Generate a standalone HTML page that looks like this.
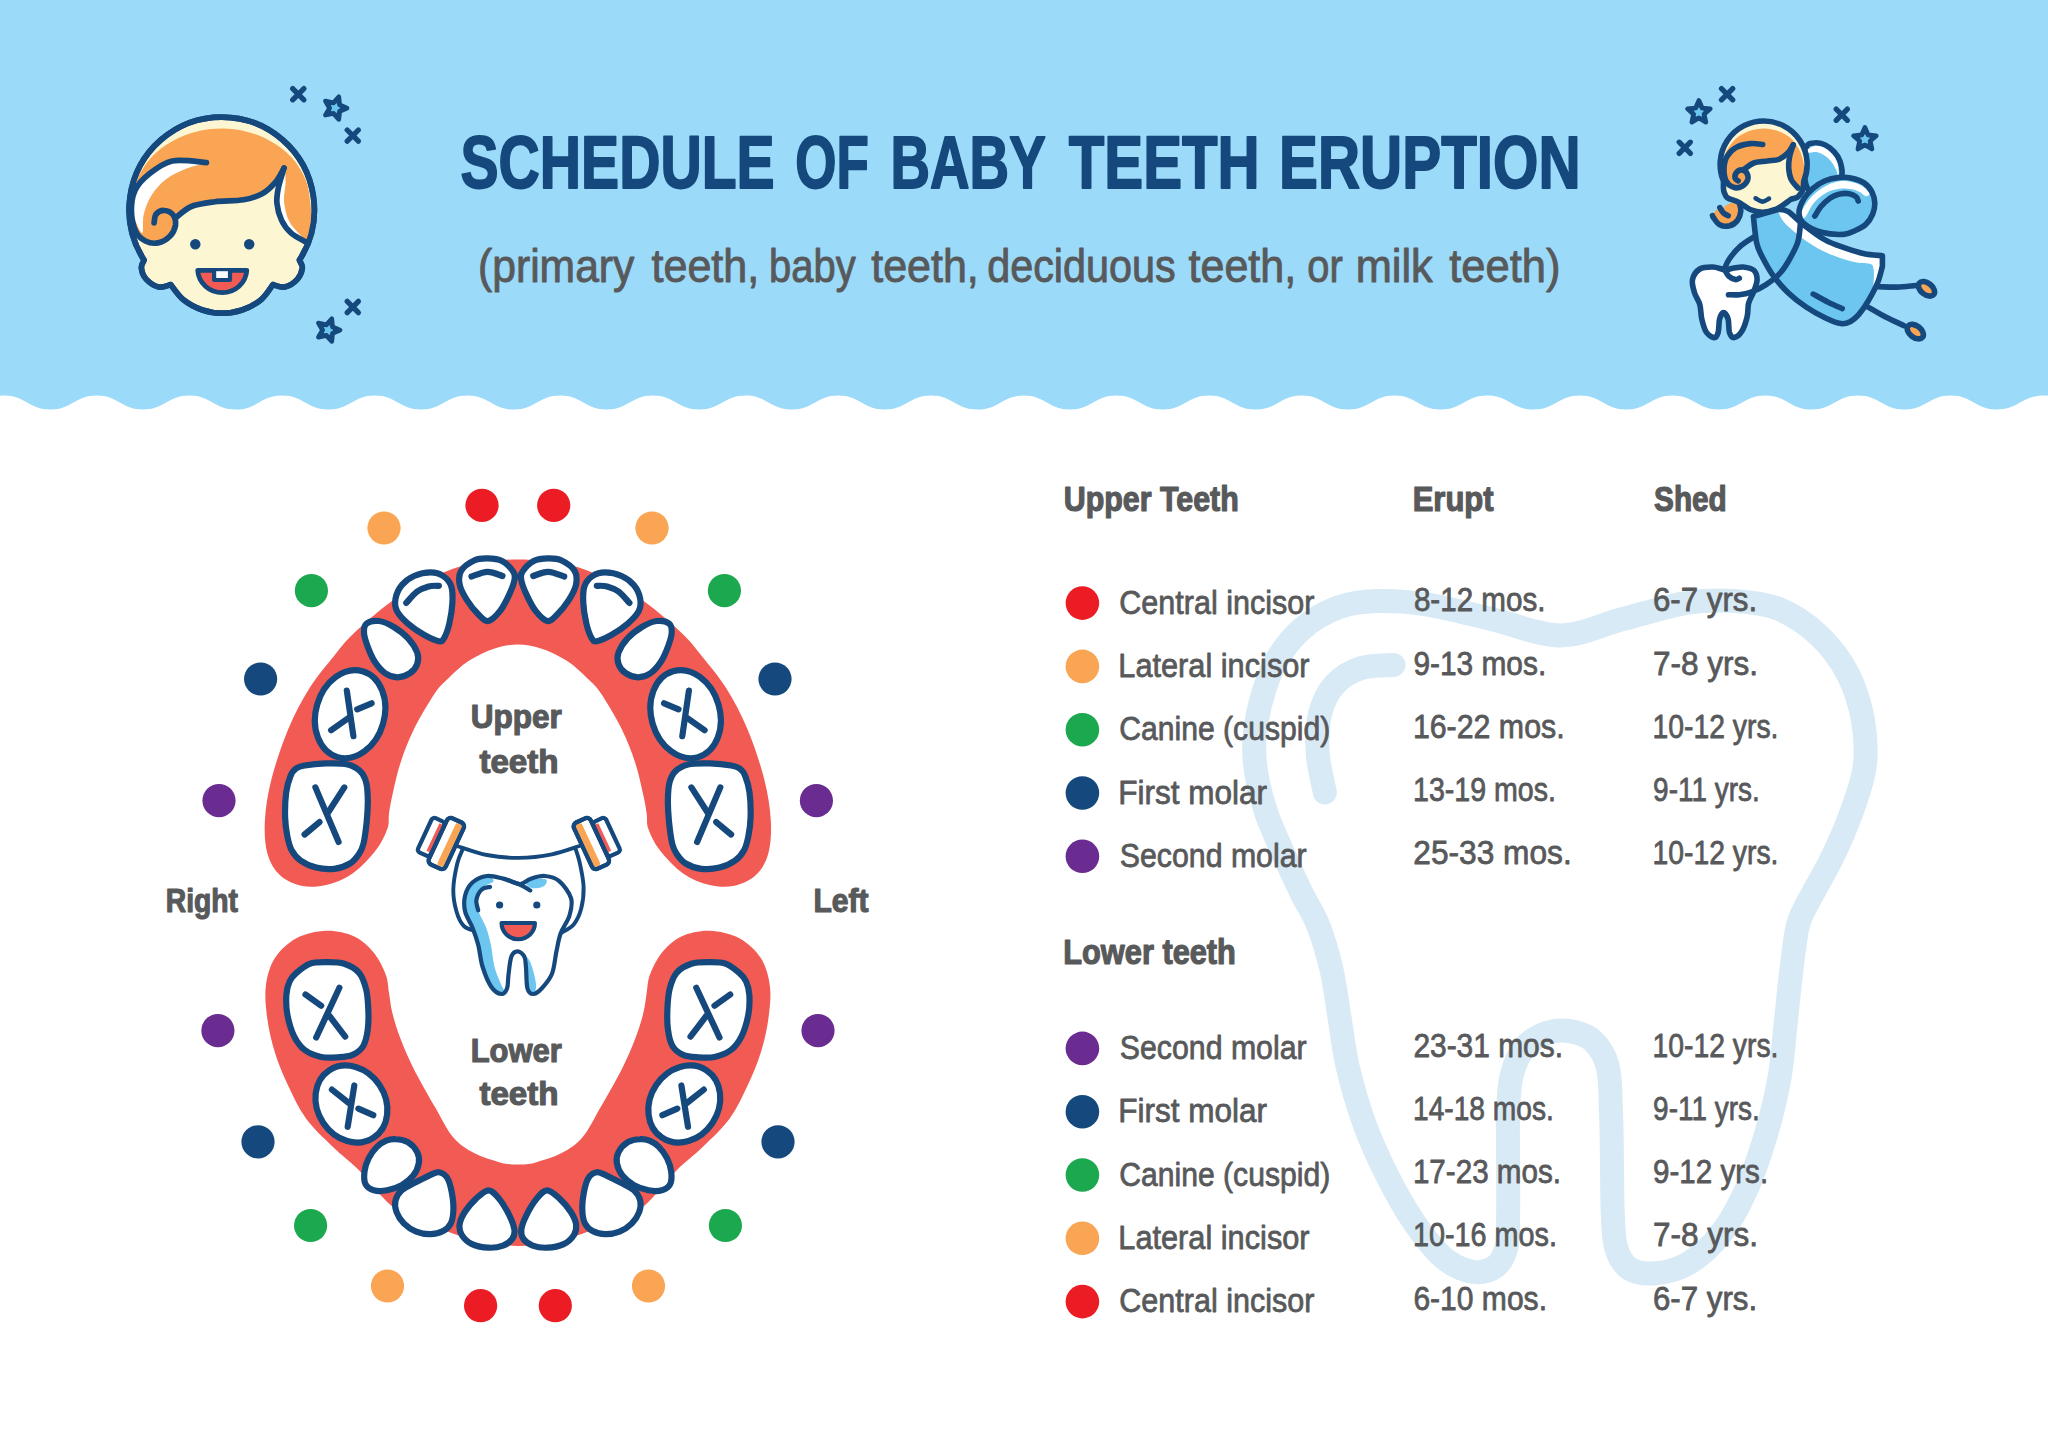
<!DOCTYPE html>
<html lang="en"><head><meta charset="utf-8"><title>Schedule of Baby Teeth Eruption</title>
<style>html,body{margin:0;padding:0;background:#fff}body{width:2048px;height:1451px;overflow:hidden}svg{display:block}</style>
</head><body>
<svg width="2048" height="1451" viewBox="0 0 2048 1451">
<rect width="2048" height="1451" fill="#fff"/>
<path d="M-88.7 395.6C-66.9 395.6 -64.1 409.6 -42.4 409.6C-20.6 409.6 -17.8 395.6 4 395.6C25.8 395.6 28.6 409.6 50.4 409.6C72.1 409.6 74.9 395.6 96.7 395.6C118.5 395.6 121.3 409.6 143.1 409.6C164.8 409.6 167.6 395.6 189.4 395.6C211.2 395.6 214 409.6 235.8 409.6C257.5 409.6 260.3 395.6 282.1 395.6C303.9 395.6 306.7 409.6 328.5 409.6C350.2 409.6 353 395.6 374.8 395.6C396.6 395.6 399.4 409.6 421.2 409.6C442.9 409.6 445.7 395.6 467.5 395.6C489.3 395.6 492.1 409.6 513.9 409.6C535.6 409.6 538.4 395.6 560.2 395.6C582 395.6 584.8 409.6 606.6 409.6C628.3 409.6 631.1 395.6 652.9 395.6C674.7 395.6 677.5 409.6 699.3 409.6C721 409.6 723.8 395.6 745.6 395.6C767.4 395.6 770.2 409.6 792 409.6C813.7 409.6 816.5 395.6 838.3 395.6C860.1 395.6 862.9 409.6 884.7 409.6C906.4 409.6 909.2 395.6 931 395.6C952.8 395.6 955.6 409.6 977.4 409.6C999.1 409.6 1001.9 395.6 1023.7 395.6C1045.5 395.6 1048.3 409.6 1070.1 409.6C1091.8 409.6 1094.6 395.6 1116.4 395.6C1138.2 395.6 1141 409.6 1162.8 409.6C1184.5 409.6 1187.3 395.6 1209.1 395.6C1230.9 395.6 1233.7 409.6 1255.5 409.6C1277.2 409.6 1280 395.6 1301.8 395.6C1323.6 395.6 1326.4 409.6 1348.1 409.6C1369.9 409.6 1372.7 395.6 1394.5 395.6C1416.3 395.6 1419.1 409.6 1440.8 409.6C1462.6 409.6 1465.4 395.6 1487.2 395.6C1509 395.6 1511.8 409.6 1533.5 409.6C1555.3 409.6 1558.1 395.6 1579.9 395.6C1601.7 395.6 1604.5 409.6 1626.2 409.6C1648 409.6 1650.8 395.6 1672.6 395.6C1694.4 395.6 1697.2 409.6 1718.9 409.6C1740.7 409.6 1743.5 395.6 1765.3 395.6C1787.1 395.6 1789.9 409.6 1811.6 409.6C1833.4 409.6 1836.2 395.6 1858 395.6C1879.8 395.6 1882.6 409.6 1904.3 409.6C1926.1 409.6 1928.9 395.6 1950.7 395.6C1972.5 395.6 1975.3 409.6 1997 409.6C2018.8 409.6 2021.6 395.6 2043.4 395.6C2065.2 395.6 2068 409.6 2089.7 409.6C2111.5 409.6 2114.3 395.6 2136.1 395.6V-10H-88.7Z" fill="#9bdaf8"/>
<g fill="none" stroke="#d7eaf5" stroke-width="24" stroke-linecap="round" stroke-linejoin="round"><path d="M1560.4 635.4C1538.6 635.4 1514.1 624.3 1491.7 619.1C1469.3 613.9 1445.4 607.4 1426.3 604.4C1407.2 601.4 1391.9 600.6 1377.2 601.1C1362.5 601.6 1350.5 603 1338 607.6C1325.5 612.2 1312.4 619.9 1302 628.9C1291.6 637.9 1282.6 649.6 1275.8 661.6C1269 673.6 1264.6 687.8 1261.1 700.9C1257.5 714 1255.3 728.1 1254.5 740.1C1253.7 752.1 1254.3 760.8 1256.2 772.8C1258.1 784.8 1261.7 799 1266 812.1C1270.3 825.2 1276.3 837.7 1282.3 851.3C1288.3 864.9 1296 881.6 1302 893.9C1308 906.2 1313.1 912.5 1318 925C1322.9 937.5 1327.8 953.6 1331.4 969.1C1335 984.6 1336.9 1001.8 1339.6 1018.1C1342.3 1034.5 1343.7 1049.8 1347.8 1067.2C1351.9 1084.7 1357.6 1104.8 1364.1 1122.8C1370.6 1140.8 1378.8 1158.8 1387 1175.2C1395.2 1191.6 1403.9 1207.4 1413.2 1221C1422.5 1234.6 1432.8 1248.5 1442.6 1257C1452.4 1265.5 1463.4 1270.1 1472.1 1271.7C1480.8 1273.3 1489.3 1270.9 1495 1266.8C1500.7 1262.7 1504.2 1255.9 1506.4 1247.2C1508.6 1238.5 1507.8 1228.1 1508.1 1214.4C1508.4 1200.7 1508.1 1181.3 1508.1 1165C1508.1 1148.7 1507.6 1131 1508.1 1116.3C1508.6 1101.6 1508.6 1088.5 1511.3 1077C1514 1065.5 1518.4 1054.9 1524.4 1047.6C1530.4 1040.2 1539.7 1035.6 1547.3 1032.9C1554.9 1030.2 1562.6 1029.9 1570.2 1031.2C1577.8 1032.5 1586.8 1035 1593.1 1041C1599.4 1047 1604.9 1054.7 1607.9 1067.2C1610.9 1079.8 1610.4 1100 1611.1 1116.3C1611.8 1132.6 1611.7 1148.7 1612 1165C1612.3 1181.3 1612.1 1200.7 1612.8 1214.4C1613.5 1228.1 1613.3 1238.2 1616 1247.2C1618.7 1256.2 1622.5 1264.1 1629.1 1268.4C1635.6 1272.8 1645.5 1274.1 1655.3 1273.3C1665.1 1272.5 1677.1 1270 1688 1263.5C1698.9 1257 1710.9 1246.6 1720.7 1234.1C1730.5 1221.6 1739.3 1205.2 1746.9 1188.3C1754.5 1171.4 1761 1151.1 1766.5 1132.6C1772 1114 1776.3 1096.1 1779.6 1077C1782.9 1057.9 1784.2 1036.1 1786.2 1018.1C1788.2 1000.1 1789.5 984.6 1791.5 969.1C1793.5 953.6 1795.1 936.5 1798 925C1800.9 913.5 1803.3 911.6 1809 900.4C1814.7 889.2 1824.9 872.6 1832 857.9C1839.1 843.2 1846.1 827.4 1851.6 812.1C1857 796.8 1862.8 781.6 1864.7 766.3C1866.6 751 1865.7 735.8 1863 720.5C1860.3 705.2 1855.6 688.9 1848.3 674.7C1841 660.5 1830.4 646.3 1818.9 635.4C1807.5 624.5 1793.2 615 1779.6 609.3C1766 603.6 1752.4 602.2 1737.1 601.1C1721.8 600 1707.1 599.7 1688 602.7C1668.9 605.7 1643.9 613.7 1622.6 619.1C1601.3 624.5 1582.2 635.4 1560.4 635.4Z"/><path d="M1393.6 664.9C1388.1 665.4 1370.7 664.8 1360.9 668.1C1351.1 671.4 1341.5 676.9 1334.7 684.5C1327.9 692.1 1322.8 702.4 1320 713.9C1317.2 725.4 1316.9 740.1 1317.7 753.2C1318.5 766.3 1323.7 786 1324.9 792.5"/></g>
<path d="M517.9 559.5C508.6 559.5 499 560 490 561C481 562 472 563.3 463.7 565.5C455.4 567.7 448.1 570.5 440 574C431.9 577.5 423.1 581.9 415 586.5C406.9 591.1 398.8 596.2 391.4 601.5C384 606.8 377.6 612.1 370.7 618C363.8 623.9 356.1 630.8 350 637C343.9 643.2 341.1 647 334.4 655.5C327.7 664 317.3 675.8 309.6 688.1C301.9 700.4 294.5 714.3 288.1 729.5C281.8 744.7 275.4 763.9 271.5 779.1C267.6 794.3 265.6 808.1 264.9 820.5C264.2 832.9 264.9 844.4 267.4 853.5C269.9 862.6 274.1 869.7 279.8 875.1C285.5 880.5 293.6 884.1 301.3 885.8C309 887.4 317.6 887.1 326.1 885C334.7 882.9 344.3 879.2 352.6 873.4C360.9 867.6 370 857.7 375.8 850.2C381.6 842.8 385.2 834.8 387.4 828.7C389.6 822.6 388.2 819.3 389 813.8C389.8 808.3 390.4 804.1 392.3 795.6C394.2 787.1 397 773.5 400.6 762.5C404.2 751.5 408.1 741.1 413.8 729.5C419.5 717.9 429.3 701.6 435 693.1C440.7 684.6 442.6 683.8 448.2 678.4C453.8 673 461.1 665.8 468.9 660.8C476.6 655.8 486.5 651.1 494.7 648.4C502.9 645.7 510.1 644.5 517.9 644.5C525.6 644.5 532.8 645.7 541 648.4C549.2 651.1 559.1 655.8 566.8 660.8C574.6 665.8 581.9 673 587.5 678.4C593.1 683.8 595 684.6 600.7 693.1C606.4 701.6 616.2 717.9 621.9 729.5C627.6 741.1 631.5 751.5 635.1 762.5C638.7 773.5 641.5 787.1 643.4 795.6C645.3 804.1 645.9 808.3 646.7 813.8C647.5 819.3 646.1 822.6 648.3 828.7C650.5 834.8 654.1 842.8 659.9 850.2C665.7 857.7 674.8 867.6 683.1 873.4C691.4 879.2 701 882.9 709.6 885C718.2 887.1 726.7 887.4 734.4 885.8C742.1 884.1 750.3 880.5 755.9 875.1C761.6 869.7 765.8 862.6 768.3 853.5C770.8 844.4 771.5 832.9 770.8 820.5C770.1 808.1 768.1 794.3 764.2 779.1C760.3 763.9 754 744.7 747.6 729.5C741.2 714.3 733.8 700.4 726.1 688.1C718.4 675.8 708 664 701.3 655.5C694.6 647 691.8 643.2 685.7 637C679.7 630.8 671.9 623.9 665 618C658.1 612.1 651.7 606.8 644.3 601.5C636.9 596.2 628.8 591.1 620.7 586.5C612.6 581.9 603.8 577.5 595.7 574C587.6 570.5 580.3 567.7 572 565.5C563.7 563.3 554.7 562 545.7 561C536.7 560 527.1 559.5 517.9 559.5Z" fill="#f15b54"/>
<path d="M517.9 1246C508.6 1246 500.7 1245 490 1243C479.3 1241 465.1 1237.5 453.4 1233.7C441.7 1229.9 430.3 1224.7 420 1220C409.7 1215.3 401.6 1214.1 391.4 1205.8C381.2 1197.5 368.7 1180.1 359 1170.3C349.3 1160.5 341.8 1155.6 333 1147C324.2 1138.4 313.5 1128.8 306 1118.5C298.5 1108.2 293.3 1096.5 288.1 1085.5C282.9 1074.5 278.3 1063.4 274.9 1052.4C271.4 1041.4 268.9 1030.3 267.4 1019.3C265.9 1008.3 264.6 996.4 265.8 986.2C267.1 976 269.8 966.1 274.9 958.1C280 950.1 287.9 942.8 296.4 938.2C304.9 933.7 316.5 931.1 326.1 930.8C335.8 930.5 346.3 932.8 354.3 936.5C362.3 940.2 368.9 946.8 374.1 953.1C379.3 959.5 383.2 968 385.7 974.6C388.2 981.2 387.9 986.4 389 992.8C390.1 999.1 390.4 1005 392.3 1012.7C394.2 1020.4 397 1029.7 400.6 1039.1C404.2 1048.5 408.1 1057.6 413.8 1068.9C419.5 1080.2 428.4 1095.5 435 1107C441.6 1118.5 446.9 1129.9 453.4 1137.6C459.9 1145.3 466.4 1149 474.1 1153.1C481.9 1157.2 492.6 1160.5 499.9 1162.4C507.2 1164.3 511.9 1164.5 517.9 1164.5C523.8 1164.5 528.5 1164.3 535.8 1162.4C543.1 1160.5 553.9 1157.2 561.6 1153.1C569.4 1149 575.8 1145.3 582.3 1137.6C588.8 1129.9 594.1 1118.5 600.7 1107C607.3 1095.5 616.2 1080.2 621.9 1068.9C627.6 1057.6 631.5 1048.5 635.1 1039.1C638.7 1029.7 641.5 1020.4 643.4 1012.7C645.3 1005 645.6 999.1 646.7 992.8C647.8 986.4 647.5 981.2 650 974.6C652.5 968 656.4 959.5 661.6 953.1C666.8 946.8 673.4 940.2 681.4 936.5C689.4 932.8 700 930.5 709.6 930.8C719.2 931.1 730.8 933.7 739.3 938.2C747.8 942.8 755.7 950.1 760.8 958.1C765.9 966.1 768.7 976 769.9 986.2C771.2 996.4 769.8 1008.3 768.3 1019.3C766.8 1030.3 764.3 1041.4 760.8 1052.4C757.4 1063.4 752.8 1074.5 747.6 1085.5C742.4 1096.5 737.2 1108.2 729.7 1118.5C722.2 1128.8 711.5 1138.4 702.7 1147C693.9 1155.6 686.4 1160.5 676.7 1170.3C667 1180.1 654.5 1197.5 644.3 1205.8C634.1 1214.1 626 1215.3 615.7 1220C605.4 1224.7 594 1229.9 582.3 1233.7C570.6 1237.5 556.4 1241 545.7 1243C535 1245 527.1 1246 517.9 1246Z" fill="#f15b54"/>
<g fill="#fff" stroke="#15487c" stroke-width="6.2" stroke-linecap="round" stroke-linejoin="round"><path d="M304.6 765.5C309.6 764.6 318.9 763.6 326.1 763.4C333.3 763.2 342 763.1 347.7 764.5C353.4 765.9 357.4 768.4 360.5 771.5C363.6 774.6 365.1 778.2 366.3 783C367.5 787.8 367.7 793.8 367.8 800C367.9 806.2 367.5 813.2 366.8 820.5C366.1 827.8 364.8 838 363.5 843.6C362.2 849.2 361.2 850.7 359 854C356.8 857.3 354.1 861 350 863.5C345.9 866 340 868.1 334.4 868.8C328.8 869.5 321.8 869 316.2 867.6C310.6 866.2 304.6 863.4 300.5 860.5C296.4 857.6 293.7 854.1 291.5 850C289.3 845.9 288.4 841.5 287.3 836C286.2 830.5 285.3 824.4 285.1 817.1C284.9 809.8 285.3 799.1 286.2 792.3C287.1 785.4 288.9 780 290.5 776C292.1 772 293.6 770.2 296 768.5C298.4 766.8 299.6 766.4 304.6 765.5Z"/><path d="M315.4 787.4L338.6 842" fill="none"/><path d="M344.3 787.4L327.8 813" fill="none"/><path d="M304.6 834.5L319.5 822.1" fill="none"/><ellipse cx="350.1" cy="714.2" rx="34.3" ry="44.7" transform="rotate(16.3 350.1 714.2)"/><path d="M346.8 690.6L353.4 736.1" fill="none"/><path d="M331.1 730.3L348.5 717.9" fill="none"/><path d="M357.2 709.3L371.6 703.3" fill="none"/><path d="M366.5 623.6C369 621.6 374.5 620.5 379 621C383.5 621.5 388.6 623.9 393.4 626.7C398.2 629.6 403.9 633.8 407.9 638.1C411.9 642.4 415.6 648.2 417.2 652.5C418.8 656.8 418.4 660.4 417.2 663.9C416 667.4 413.3 671 410 673.2C406.7 675.4 401.7 677.3 397.6 677.3C393.5 677.3 389 675.8 385.2 673.2C381.4 670.6 377.7 666.3 374.8 661.8C371.9 657.3 369.4 651.1 367.6 646.3C365.8 641.5 364.2 636.7 364 632.9C363.8 629.1 364 625.6 366.5 623.6Z"/><path d="M395.5 598.8C396.3 594.5 398.6 589.1 401.7 585.3C404.8 581.5 409.3 578.1 414.1 576C418.9 573.9 425.8 572.4 430.6 572.4C435.4 572.4 439.7 573.7 443.1 576C446.6 578.3 449.8 581.9 451.3 586.4C452.9 590.9 452.7 596.7 452.4 602.9C452.1 609.1 450.7 617.7 449.3 623.6C447.9 629.5 445.8 635.2 444.1 638.1C442.4 641 442.2 641.7 438.9 641.2C435.6 640.7 429.6 637.9 424.4 635C419.2 632.1 412.5 627.6 407.9 623.6C403.3 619.6 399.1 615.3 397 611.2C394.9 607.1 394.7 603.1 395.5 598.8Z"/><path d="M406.3 602.9C408.1 601 413.5 594.2 417.2 591.5C420.9 588.8 425 587.4 428.6 586.4C432.2 585.4 437.2 585.9 438.9 585.8" fill="none"/><path d="M461.1 570.8C463.5 566.8 469.7 562.6 474.1 560.5C478.5 558.4 482.9 558.3 487.5 558.4C492.1 558.5 497.7 558.8 502 561C506.3 563.2 511.3 568.7 513.4 571.9C515.5 575.1 515.1 576.4 514.4 580.2C513.7 584 511.6 589.4 509.2 594.6C506.8 599.8 503.3 606.8 499.9 611.2C496.4 615.6 491.9 620.3 488.5 621C485.1 621.7 482.8 618.8 479.2 615.3C475.6 611.8 470.1 605 466.8 599.8C463.5 594.6 460.6 589.1 459.6 584.3C458.7 579.5 458.7 574.8 461.1 570.8Z"/><path d="M471.5 576.5C474.2 575.7 482.3 572 487.5 571.9C492.7 571.8 500 575.3 502.5 576" fill="none"/><path d="M296.4 972.9C299.7 970 304.7 965.6 309.6 963.8C314.6 962 320.3 962.2 326.1 962.2C331.9 962.2 338.8 962 344.3 963.8C349.8 965.6 355.6 968.6 359.2 972.9C362.8 977.2 364.7 983.4 366.2 989.5C367.7 995.6 368 1002.7 368.3 1009.3C368.6 1015.9 368.6 1023.1 367.8 1029.2C367 1035.3 365.9 1041.4 363.4 1045.7C360.9 1050 356.9 1052.9 352.6 1054.8C348.3 1056.7 342.9 1056.9 337.7 1057.3C332.5 1057.7 326.7 1058.2 321.2 1057C315.7 1055.8 309.2 1053.4 304.6 1049.9C300.1 1046.4 296.8 1041.7 293.9 1035.8C291 1029.9 288.6 1021.2 287.3 1014.3C286.1 1007.4 286 1000 286.4 994.5C286.8 989 288 984.8 289.7 981.2C291.4 977.6 293.1 975.8 296.4 972.9Z"/><path d="M339.4 987.8L316.2 1037.5" fill="none"/><path d="M305.5 994.5L321.2 1005.7" fill="none"/><path d="M329.5 1016L345.2 1036.6" fill="none"/><ellipse cx="351.4" cy="1104" rx="33.9" ry="40.3" transform="rotate(-33.5 351.4 1104)"/><path d="M354.3 1085.5L347.7 1126.8" fill="none"/><path d="M331.9 1089.6L348.5 1102.8" fill="none"/><path d="M358.4 1108.6L373.3 1115.2" fill="none"/><path d="M395.5 1139.1C399.1 1139.3 404.3 1140 407.9 1142.2C411.5 1144.4 415.4 1148.6 417.2 1152.1C419 1155.6 419.5 1159.5 418.8 1163.4C418.1 1167.4 416 1172.2 413.1 1175.8C410.2 1179.4 406 1182.7 401.7 1185.1C397.4 1187.5 391.8 1189.4 387.2 1190.3C382.6 1191.2 377.4 1191.3 373.8 1190.3C370.2 1189.3 367.1 1187.2 365.5 1184.1C363.9 1181 364 1176 364.5 1171.7C365 1167.4 366.5 1162.4 368.6 1158.3C370.7 1154.2 374 1149.8 376.9 1146.9C379.8 1144 383.1 1142 386.2 1140.7C389.3 1139.4 391.9 1138.8 395.5 1139.1Z"/><path d="M438.9 1172.2C442 1172.6 445 1174.5 447.2 1177.9C449.4 1181.3 450.8 1187.1 451.8 1192.4C452.8 1197.8 453.6 1204.8 453.4 1210C453.2 1215.2 452.5 1219.9 450.8 1223.4C449.1 1226.9 446.5 1229.3 443.1 1231.1C439.7 1232.9 435.1 1234.1 430.6 1234.2C426.1 1234.3 420.7 1233.5 416.2 1231.7C411.7 1229.9 407.1 1226.7 403.8 1223.4C400.5 1220.1 397.9 1215.8 396.5 1212C395.1 1208.2 394.6 1204.2 395.5 1200.6C396.4 1197 398.6 1193.2 401.7 1190.3C404.8 1187.4 409.6 1185.5 414.1 1183.1C418.6 1180.7 424.5 1177.6 428.6 1175.8C432.7 1174 435.8 1171.8 438.9 1172.2Z"/><path d="M488.5 1190.3C492.3 1190.3 495.4 1194.5 498.9 1198.6C502.3 1202.7 506.6 1209.9 509.2 1215.1C511.8 1220.3 513.9 1225.6 514.4 1229.6C514.9 1233.6 514.2 1236.2 512.3 1238.9C510.4 1241.6 507 1244.1 503 1245.6C499 1247.1 493.7 1248 488.5 1247.7C483.3 1247.5 476.5 1246.2 472 1244.1C467.5 1241.9 463.8 1238.1 461.7 1234.8C459.6 1231.5 459.1 1228.2 459.6 1224.4C460.1 1220.6 462.1 1216.3 464.8 1212C467.6 1207.7 472.2 1202.2 476.1 1198.6C480.1 1195 484.7 1190.3 488.5 1190.3Z"/></g>
<g transform="matrix(-1 0 0 1 1035.7 0)" fill="#fff" stroke="#15487c" stroke-width="6.2" stroke-linecap="round" stroke-linejoin="round"><path d="M304.6 765.5C309.6 764.6 318.9 763.6 326.1 763.4C333.3 763.2 342 763.1 347.7 764.5C353.4 765.9 357.4 768.4 360.5 771.5C363.6 774.6 365.1 778.2 366.3 783C367.5 787.8 367.7 793.8 367.8 800C367.9 806.2 367.5 813.2 366.8 820.5C366.1 827.8 364.8 838 363.5 843.6C362.2 849.2 361.2 850.7 359 854C356.8 857.3 354.1 861 350 863.5C345.9 866 340 868.1 334.4 868.8C328.8 869.5 321.8 869 316.2 867.6C310.6 866.2 304.6 863.4 300.5 860.5C296.4 857.6 293.7 854.1 291.5 850C289.3 845.9 288.4 841.5 287.3 836C286.2 830.5 285.3 824.4 285.1 817.1C284.9 809.8 285.3 799.1 286.2 792.3C287.1 785.4 288.9 780 290.5 776C292.1 772 293.6 770.2 296 768.5C298.4 766.8 299.6 766.4 304.6 765.5Z"/><path d="M315.4 787.4L338.6 842" fill="none"/><path d="M344.3 787.4L327.8 813" fill="none"/><path d="M304.6 834.5L319.5 822.1" fill="none"/><ellipse cx="350.1" cy="714.2" rx="34.3" ry="44.7" transform="rotate(16.3 350.1 714.2)"/><path d="M346.8 690.6L353.4 736.1" fill="none"/><path d="M331.1 730.3L348.5 717.9" fill="none"/><path d="M357.2 709.3L371.6 703.3" fill="none"/><path d="M366.5 623.6C369 621.6 374.5 620.5 379 621C383.5 621.5 388.6 623.9 393.4 626.7C398.2 629.6 403.9 633.8 407.9 638.1C411.9 642.4 415.6 648.2 417.2 652.5C418.8 656.8 418.4 660.4 417.2 663.9C416 667.4 413.3 671 410 673.2C406.7 675.4 401.7 677.3 397.6 677.3C393.5 677.3 389 675.8 385.2 673.2C381.4 670.6 377.7 666.3 374.8 661.8C371.9 657.3 369.4 651.1 367.6 646.3C365.8 641.5 364.2 636.7 364 632.9C363.8 629.1 364 625.6 366.5 623.6Z"/><path d="M395.5 598.8C396.3 594.5 398.6 589.1 401.7 585.3C404.8 581.5 409.3 578.1 414.1 576C418.9 573.9 425.8 572.4 430.6 572.4C435.4 572.4 439.7 573.7 443.1 576C446.6 578.3 449.8 581.9 451.3 586.4C452.9 590.9 452.7 596.7 452.4 602.9C452.1 609.1 450.7 617.7 449.3 623.6C447.9 629.5 445.8 635.2 444.1 638.1C442.4 641 442.2 641.7 438.9 641.2C435.6 640.7 429.6 637.9 424.4 635C419.2 632.1 412.5 627.6 407.9 623.6C403.3 619.6 399.1 615.3 397 611.2C394.9 607.1 394.7 603.1 395.5 598.8Z"/><path d="M406.3 602.9C408.1 601 413.5 594.2 417.2 591.5C420.9 588.8 425 587.4 428.6 586.4C432.2 585.4 437.2 585.9 438.9 585.8" fill="none"/><path d="M461.1 570.8C463.5 566.8 469.7 562.6 474.1 560.5C478.5 558.4 482.9 558.3 487.5 558.4C492.1 558.5 497.7 558.8 502 561C506.3 563.2 511.3 568.7 513.4 571.9C515.5 575.1 515.1 576.4 514.4 580.2C513.7 584 511.6 589.4 509.2 594.6C506.8 599.8 503.3 606.8 499.9 611.2C496.4 615.6 491.9 620.3 488.5 621C485.1 621.7 482.8 618.8 479.2 615.3C475.6 611.8 470.1 605 466.8 599.8C463.5 594.6 460.6 589.1 459.6 584.3C458.7 579.5 458.7 574.8 461.1 570.8Z"/><path d="M471.5 576.5C474.2 575.7 482.3 572 487.5 571.9C492.7 571.8 500 575.3 502.5 576" fill="none"/><path d="M296.4 972.9C299.7 970 304.7 965.6 309.6 963.8C314.6 962 320.3 962.2 326.1 962.2C331.9 962.2 338.8 962 344.3 963.8C349.8 965.6 355.6 968.6 359.2 972.9C362.8 977.2 364.7 983.4 366.2 989.5C367.7 995.6 368 1002.7 368.3 1009.3C368.6 1015.9 368.6 1023.1 367.8 1029.2C367 1035.3 365.9 1041.4 363.4 1045.7C360.9 1050 356.9 1052.9 352.6 1054.8C348.3 1056.7 342.9 1056.9 337.7 1057.3C332.5 1057.7 326.7 1058.2 321.2 1057C315.7 1055.8 309.2 1053.4 304.6 1049.9C300.1 1046.4 296.8 1041.7 293.9 1035.8C291 1029.9 288.6 1021.2 287.3 1014.3C286.1 1007.4 286 1000 286.4 994.5C286.8 989 288 984.8 289.7 981.2C291.4 977.6 293.1 975.8 296.4 972.9Z"/><path d="M339.4 987.8L316.2 1037.5" fill="none"/><path d="M305.5 994.5L321.2 1005.7" fill="none"/><path d="M329.5 1016L345.2 1036.6" fill="none"/><ellipse cx="351.4" cy="1104" rx="33.9" ry="40.3" transform="rotate(-33.5 351.4 1104)"/><path d="M354.3 1085.5L347.7 1126.8" fill="none"/><path d="M331.9 1089.6L348.5 1102.8" fill="none"/><path d="M358.4 1108.6L373.3 1115.2" fill="none"/><path d="M395.5 1139.1C399.1 1139.3 404.3 1140 407.9 1142.2C411.5 1144.4 415.4 1148.6 417.2 1152.1C419 1155.6 419.5 1159.5 418.8 1163.4C418.1 1167.4 416 1172.2 413.1 1175.8C410.2 1179.4 406 1182.7 401.7 1185.1C397.4 1187.5 391.8 1189.4 387.2 1190.3C382.6 1191.2 377.4 1191.3 373.8 1190.3C370.2 1189.3 367.1 1187.2 365.5 1184.1C363.9 1181 364 1176 364.5 1171.7C365 1167.4 366.5 1162.4 368.6 1158.3C370.7 1154.2 374 1149.8 376.9 1146.9C379.8 1144 383.1 1142 386.2 1140.7C389.3 1139.4 391.9 1138.8 395.5 1139.1Z"/><path d="M438.9 1172.2C442 1172.6 445 1174.5 447.2 1177.9C449.4 1181.3 450.8 1187.1 451.8 1192.4C452.8 1197.8 453.6 1204.8 453.4 1210C453.2 1215.2 452.5 1219.9 450.8 1223.4C449.1 1226.9 446.5 1229.3 443.1 1231.1C439.7 1232.9 435.1 1234.1 430.6 1234.2C426.1 1234.3 420.7 1233.5 416.2 1231.7C411.7 1229.9 407.1 1226.7 403.8 1223.4C400.5 1220.1 397.9 1215.8 396.5 1212C395.1 1208.2 394.6 1204.2 395.5 1200.6C396.4 1197 398.6 1193.2 401.7 1190.3C404.8 1187.4 409.6 1185.5 414.1 1183.1C418.6 1180.7 424.5 1177.6 428.6 1175.8C432.7 1174 435.8 1171.8 438.9 1172.2Z"/><path d="M488.5 1190.3C492.3 1190.3 495.4 1194.5 498.9 1198.6C502.3 1202.7 506.6 1209.9 509.2 1215.1C511.8 1220.3 513.9 1225.6 514.4 1229.6C514.9 1233.6 514.2 1236.2 512.3 1238.9C510.4 1241.6 507 1244.1 503 1245.6C499 1247.1 493.7 1248 488.5 1247.7C483.3 1247.5 476.5 1246.2 472 1244.1C467.5 1241.9 463.8 1238.1 461.7 1234.8C459.6 1231.5 459.1 1228.2 459.6 1224.4C460.1 1220.6 462.1 1216.3 464.8 1212C467.6 1207.7 472.2 1202.2 476.1 1198.6C480.1 1195 484.7 1190.3 488.5 1190.3Z"/></g>
<circle cx="482" cy="505.3" r="16.6" fill="#ec1c24"/>
<circle cx="553.7" cy="505.3" r="16.6" fill="#ec1c24"/>
<circle cx="384" cy="528" r="16.6" fill="#f9a553"/>
<circle cx="652" cy="528" r="16.6" fill="#f9a553"/>
<circle cx="311.4" cy="590.6" r="16.6" fill="#1ca84f"/>
<circle cx="724.4" cy="590.6" r="16.6" fill="#1ca84f"/>
<circle cx="260.6" cy="679" r="16.6" fill="#15487c"/>
<circle cx="775" cy="679" r="16.6" fill="#15487c"/>
<circle cx="219" cy="800.6" r="16.6" fill="#6b2c91"/>
<circle cx="816.4" cy="800.6" r="16.6" fill="#6b2c91"/>
<circle cx="217.9" cy="1030.6" r="16.6" fill="#6b2c91"/>
<circle cx="818" cy="1030.6" r="16.6" fill="#6b2c91"/>
<circle cx="258" cy="1141.8" r="16.6" fill="#15487c"/>
<circle cx="778" cy="1141.8" r="16.6" fill="#15487c"/>
<circle cx="310.6" cy="1225.5" r="16.6" fill="#1ca84f"/>
<circle cx="725.4" cy="1225.5" r="16.6" fill="#1ca84f"/>
<circle cx="387.5" cy="1286" r="16.6" fill="#f9a553"/>
<circle cx="648.5" cy="1286" r="16.6" fill="#f9a553"/>
<circle cx="480.6" cy="1305.7" r="16.6" fill="#ec1c24"/>
<circle cx="555.3" cy="1305.7" r="16.6" fill="#ec1c24"/>
<circle cx="1082.4" cy="603.1" r="16.8" fill="#ec1c24"/>
<circle cx="1082.4" cy="666.4" r="16.8" fill="#f9a553"/>
<circle cx="1082.4" cy="729.7" r="16.8" fill="#1ca84f"/>
<circle cx="1082.4" cy="793" r="16.8" fill="#15487c"/>
<circle cx="1082.4" cy="856.3" r="16.8" fill="#6b2c91"/>
<circle cx="1082.4" cy="1048.4" r="16.8" fill="#6b2c91"/>
<circle cx="1082.4" cy="1111.7" r="16.8" fill="#15487c"/>
<circle cx="1082.4" cy="1175" r="16.8" fill="#1ca84f"/>
<circle cx="1082.4" cy="1238.3" r="16.8" fill="#f9a553"/>
<circle cx="1082.4" cy="1301.6" r="16.8" fill="#ec1c24"/>
<path d="M144.1 260.1A92.6 92.6 0 1 1 299.4 260.1L299.4 260.1C299.9 261.4 302.6 264.8 302.3 268C301.9 271.2 300.4 275.9 297.5 279.1C294.6 282.3 288.9 286.1 284.8 287C280.7 287.9 274.9 285 272.9 284.6L272.9 284.6C271 287.1 266.2 295.5 261 299.7C255.9 303.9 248.5 307.7 242 310C235.6 312.2 228.8 313.2 222.2 313.2C215.6 313.2 208.9 312.2 202.4 310C195.9 307.7 188.7 303.9 183.4 299.7C178.1 295.5 172.8 287.1 170.7 284.6L170.7 284.6C168.7 285 162.9 287.9 158.8 287C154.7 286.1 149.1 282.3 146.1 279.1C143.2 275.9 141.7 271.2 141.4 268C141.1 264.8 143.6 261.4 144.1 260.1Z" fill="#fdf6d2" stroke="#15487c" stroke-width="5.7" stroke-linecap="round" stroke-linejoin="round" />
<path d="M133.5 201.4C133.7 193.5 134.4 186.6 137.4 179.2C140.5 171.8 145.9 163.4 151.7 157.1C157.5 150.7 164.9 145.4 172.3 141.2C179.7 137 187.8 133.8 196.1 131.7C204.3 129.6 213.3 128.5 221.7 128.5C230.2 128.5 238.6 129.6 246.8 131.7C254.9 133.8 263.2 137 270.6 141.2C278 145.4 285.3 150.7 291.2 157.1C297 163.4 302.3 171.8 305.4 179.2C308.6 186.6 309.2 194.6 310.2 201.4C311.1 208.3 311.5 213.6 311 220.4C310.4 227.3 310.3 240.5 307 242.6C303.7 244.7 295.4 236.8 291.2 233.1C286.9 229.4 284 225.5 281.6 220.4C279.3 215.4 277.4 208.6 276.9 203C276.4 197.5 277.3 193 278.5 187.2C279.7 181.4 284.6 168.9 284 168.1C283.5 167.4 278.9 178.2 275.3 182.4C271.7 186.6 267.9 190.6 262.6 193.5C257.3 196.4 251.5 198.5 243.6 199.8C235.7 201.2 223.8 200.4 215.1 201.4C206.4 202.5 197.9 203.5 191.3 206.2C184.7 208.8 178.2 213.8 175.5 217.3C172.7 220.7 175.7 223.6 174.7 226.8C173.6 230 172.2 233.7 169.1 236.3C166.1 238.9 160.7 242.1 156.5 242.6C152.2 243.2 147.2 242.1 143.8 239.5C140.3 236.8 137.6 233.1 135.8 226.8C134.1 220.4 133.2 209.4 133.5 201.4Z" fill="#f9a553"  />
<path d="M135.1 191.9C137.6 185.3 142.3 179.4 148.5 174.5C154.7 169.6 162.7 164.6 172.3 162.6C181.9 160.6 204 161.6 206.4 162.6C208.7 163.6 193.3 165.7 186.6 168.5C179.8 171.2 171.8 174.8 166 179.2C160.1 183.7 155.4 189.3 151.7 195.1C148 200.9 145.4 207.8 143.8 214.1C142.2 220.4 143.9 233.1 142.2 233.1C140.5 233.1 134.7 221 133.5 214.1C132.3 207.2 132.5 198.5 135.1 191.9Z" fill="#fff"  />
<path d="M284 168.1C285.2 167.4 285.6 176.9 285.6 182.4C285.6 188 283.4 194.8 284 201.4C284.7 208 286.3 215.7 289.6 222C292.9 228.4 303.6 237.6 303.8 239.5C304.1 241.3 294.9 236.3 291.2 233.1C287.5 230 284 225.5 281.6 220.4C279.3 215.4 277.4 208.6 276.9 203C276.4 197.5 277.3 193 278.5 187.2C279.7 181.4 282.8 168.9 284 168.1Z" fill="#fff"  />
<path d="M206.4 162.6C200.7 162.3 181.9 159 172.3 161C162.7 163 154.7 169.6 148.5 174.5C142.3 179.4 137.9 184.3 135.1 190.3C132.2 196.4 131.3 204.1 131.4 210.9C131.5 217.8 133.5 226.5 135.8 231.5C138.2 236.6 141.7 239.1 145.4 241C149.1 242.9 153.9 243.7 158 242.9C162.1 242.2 167 239.2 169.9 236.3C172.8 233.3 174.9 228.8 175.5 225.2C176 221.6 174.9 217.4 173.1 214.9C171.2 212.4 167.2 210.6 164.4 210.5C161.5 210.3 157.8 212 156.1 214.1C154.4 216.2 154.4 221.4 154.1 222.8" fill="none" stroke="#15487c" stroke-width="5.7" stroke-linecap="round" stroke-linejoin="round" />
<path d="M175.5 218.1C178.1 216.1 184.7 209.2 191.3 206.5C197.9 203.8 206.4 202.9 215.1 201.7C223.8 200.6 235.7 201.2 243.6 199.8C251.5 198.5 257.3 196.4 262.6 193.5C267.9 190.6 271.7 186.6 275.3 182.4C278.9 178.2 282.6 170.5 284 168.1" fill="none" stroke="#15487c" stroke-width="5.7" stroke-linecap="round" stroke-linejoin="round" />
<path d="M284 168.1C283.1 171.3 279.7 181.4 278.5 187.2C277.3 193 276.4 197.5 276.9 203C277.4 208.6 279.3 215.4 281.6 220.4C284 225.5 286.9 229.4 291.2 233.1C295.4 236.8 304.4 241 307 242.6" fill="none" stroke="#15487c" stroke-width="5.7" stroke-linecap="round" stroke-linejoin="round" />
<path d="M144.1 260.1A92.6 92.6 0 1 1 299.4 260.1L299.4 260.1C299.9 261.4 302.6 264.8 302.3 268C301.9 271.2 300.4 275.9 297.5 279.1C294.6 282.3 288.9 286.1 284.8 287C280.7 287.9 274.9 285 272.9 284.6L272.9 284.6C271 287.1 266.2 295.5 261 299.7C255.9 303.9 248.5 307.7 242 310C235.6 312.2 228.8 313.2 222.2 313.2C215.6 313.2 208.9 312.2 202.4 310C195.9 307.7 188.7 303.9 183.4 299.7C178.1 295.5 172.8 287.1 170.7 284.6L170.7 284.6C168.7 285 162.9 287.9 158.8 287C154.7 286.1 149.1 282.3 146.1 279.1C143.2 275.9 141.7 271.2 141.4 268C141.1 264.8 143.6 261.4 144.1 260.1Z" fill="none" stroke="#15487c" stroke-width="5.7" stroke-linecap="round" stroke-linejoin="round" />
<circle cx="195.3" cy="244.2" r="5.2" fill="#15487c"/>
<circle cx="249.2" cy="244.2" r="5.2" fill="#15487c"/>
<path d="M197.7 270.4L246.8 270.4A24.6 23.8 0 0 1 197.7 270.4Z" fill="#f15b54" stroke="#15487c" stroke-width="4.8" stroke-linecap="round" stroke-linejoin="round" />
<path d="M214.1 271.2L214.1 280L230 280L230 271.2" fill="#fff" stroke="#15487c" stroke-width="4.2" stroke-linecap="round" stroke-linejoin="round" />
<path d="M1806.5 147.2C1808 142.5 1810.3 143.7 1812.7 143.1C1815.2 142.5 1818.1 142.6 1821 143.4C1823.9 144.2 1827.2 145.8 1830 147.9C1832.7 150 1835.7 153.2 1837.6 156.2C1839.4 159.2 1840.7 162.4 1841.3 165.8C1842 169.3 1843 173.6 1841.3 176.9C1839.7 180.1 1836.5 182.6 1831.4 185.1C1826.2 187.7 1815.3 194.3 1810.7 192C1806.1 189.7 1804.5 178.8 1803.8 171.4C1803.1 163.9 1805 151.9 1806.5 147.2Z" fill="#6cc6ef" stroke="#15487c" stroke-width="5.6" stroke-linecap="round" stroke-linejoin="round" />
<path d="M1807.2 150C1808 148.9 1811.1 146.8 1813.4 146.2C1815.7 145.6 1818.5 145.8 1821 146.5C1823.5 147.3 1826.3 148.8 1828.6 150.7C1830.9 152.5 1833.2 154.9 1834.8 157.6C1836.4 160.2 1837.6 163.2 1838.2 166.5C1838.9 169.9 1838.9 177 1838.6 177.6C1838.2 178.1 1837.4 172.6 1836.2 170C1835 167.3 1833.3 164.1 1831.4 161.7C1829.4 159.3 1827 157.1 1824.5 155.5C1821.9 153.9 1818.8 152.5 1816.2 152.1C1813.5 151.6 1810.1 153.1 1808.6 152.7C1807.1 152.4 1806.4 151.1 1807.2 150Z" fill="#fff"  />
<path d="M1757.4 234.7C1754.6 236.6 1745.3 241.8 1740.7 245.8C1736.1 249.8 1732.4 254.5 1729.6 258.5C1726.8 262.4 1725 267.7 1724.1 269.6" fill="none" stroke="#15487c" stroke-width="5.6" stroke-linecap="round" stroke-linejoin="round" />
<path d="M1877.8 286.8C1881.1 286.8 1891.2 287.3 1897.5 287.1C1903.9 286.8 1912.9 285.7 1916 285.5" fill="none" stroke="#15487c" stroke-width="5.6" stroke-linecap="round" stroke-linejoin="round" />
<path d="M1867.2 306.6C1870.3 308.3 1879.5 313.9 1885.7 317.1C1891.8 320.3 1901.1 324.3 1904.1 325.7" fill="none" stroke="#15487c" stroke-width="5.6" stroke-linecap="round" stroke-linejoin="round" />
<path d="M1753.4 216.5C1753.9 220.8 1755.2 236.1 1756.6 242.6C1758 249.2 1759.1 250.5 1761.7 255.8C1764.4 261.1 1767.9 268.2 1772.3 274.3C1776.6 280.5 1782.4 287.2 1788.1 292.7C1793.8 298.2 1800.3 303.1 1806.5 307.3C1812.6 311.5 1819.3 315 1825 317.7C1830.8 320.5 1836.7 323 1840.9 323.6C1845 324.3 1847 323.3 1850.1 321.7C1853.1 320.1 1856.2 317.3 1859.3 313.8C1862.3 310.3 1865.4 305.9 1868.4 300.6C1871.5 295.4 1875.5 288 1877.8 282.3C1880.1 276.5 1881.6 269 1882.4 266.4L1882.4 255.8C1879.4 255.4 1870.6 255 1864.3 253.7C1858.1 252.4 1851.4 250.2 1844.8 247.9C1838.3 245.6 1831.8 243.7 1825 239.9C1818.2 236.2 1810.2 229.9 1804.1 225.2C1798 220.5 1792.5 214.4 1788.3 211.7C1784 209.1 1780.3 209.7 1778.7 209.4Z" fill="#6cc6ef"  />
<path d="M1778.7 209.4C1779.7 207.9 1784 209.1 1788.3 211.7C1792.5 214.4 1798 220.5 1804.1 225.2C1810.2 229.9 1818.2 236.2 1825 239.9C1831.8 243.7 1838.3 245.6 1844.8 247.9C1851.4 250.2 1858.1 252.4 1864.3 253.7C1870.6 255 1879.6 252.9 1882.4 255.8C1885.2 258.7 1882.4 265.4 1881 271.2C1879.5 276.9 1875 290.2 1873.8 290.2C1872.6 290.2 1874.4 275.5 1873.8 271.2C1873.3 266.8 1873.6 265.5 1870.7 264C1867.8 262.6 1861.9 263.6 1856.4 262.4C1850.9 261.3 1843.9 259.3 1837.4 256.9C1830.9 254.5 1824.3 252 1817.6 248.2C1810.8 244.3 1802.8 238.5 1797 233.9C1791.2 229.3 1785.7 224.5 1782.7 220.4C1779.7 216.3 1777.8 210.8 1778.7 209.4Z" fill="#fff"  />
<path d="M1753.4 216.5C1753.9 220.8 1755.2 236.1 1756.6 242.6C1758 249.2 1759.1 250.5 1761.7 255.8C1764.4 261.1 1767.9 268.2 1772.3 274.3C1776.6 280.5 1782.4 287.2 1788.1 292.7C1793.8 298.2 1800.3 303.1 1806.5 307.3C1812.6 311.5 1819.3 315 1825 317.7C1830.8 320.5 1836.7 323 1840.9 323.6C1845 324.3 1847 323.3 1850.1 321.7C1853.1 320.1 1856.2 317.3 1859.3 313.8C1862.3 310.3 1865.4 305.9 1868.4 300.6C1871.5 295.4 1875.5 288 1877.8 282.3C1880.1 276.5 1881.6 269 1882.4 266.4L1882.4 255.8C1879.4 255.4 1870.6 255 1864.3 253.7C1858.1 252.4 1851.4 250.2 1844.8 247.9C1838.3 245.6 1831.8 243.7 1825 239.9C1818.2 236.2 1810.2 229.9 1804.1 225.2C1798 220.5 1792.5 214.4 1788.3 211.7C1784 209.1 1780.3 209.7 1778.7 209.4Z" fill="none" stroke="#15487c" stroke-width="5.6" stroke-linecap="round" stroke-linejoin="round" />
<path d="M1813.2 294.1C1815.6 295.4 1822.8 299.5 1827.7 302C1832.5 304.4 1839.7 307.5 1842.2 308.6" fill="none" stroke="#15487c" stroke-width="5.6" stroke-linecap="round" stroke-linejoin="round" />
<path d="M1799 212.7C1798.9 208.6 1801.5 202.9 1803.8 198.9C1806.1 194.9 1809.3 191.6 1812.7 188.6C1816.2 185.6 1820.2 182.8 1824.5 181C1828.7 179.2 1833.6 178 1838.2 177.6C1842.8 177.1 1847.7 177.3 1852 178.2C1856.4 179.2 1861.1 180.8 1864.4 183.1C1867.8 185.4 1870.3 188.7 1872 192C1873.7 195.4 1874.7 199.4 1874.8 203.1C1874.9 206.7 1874.2 210.5 1872.7 214.1C1871.2 217.6 1868.8 221.6 1865.8 224.4C1862.8 227.2 1858.5 229.1 1854.8 230.7C1851.1 232.4 1849.3 234.1 1843.7 234.4C1838.2 234.7 1828.1 234.1 1821.5 232.3C1814.9 230.5 1807.9 226.9 1804.1 223.6C1800.3 220.3 1799 216.8 1799 212.7Z" fill="#6cc6ef"  />
<path d="M1800.3 214.8C1800.9 212 1805 204.9 1807.9 201C1810.8 197.1 1814.1 194.1 1817.6 191.3C1821 188.6 1824.9 186.1 1828.6 184.4C1832.3 182.8 1835.9 181.8 1839.6 181.3C1843.3 180.9 1847 180.9 1850.6 181.7C1854.3 182.4 1858.6 183.9 1861.7 185.8C1864.8 187.8 1868.6 191.7 1869.3 193.4C1869.9 195.1 1867.4 196.4 1865.8 196.2C1864.2 195.9 1861.9 193.2 1859.6 192C1857.3 190.9 1854.9 189.8 1852 189.3C1849.2 188.7 1845.8 188.4 1842.4 188.6C1838.9 188.8 1834.9 189.4 1831.4 190.6C1827.8 191.9 1824.1 193.9 1821 196.2C1817.9 198.5 1815.4 200.9 1812.7 204.4C1810 208 1806.9 215.8 1804.8 217.5C1802.7 219.2 1799.8 217.5 1800.3 214.8Z" fill="#fff"  />
<path d="M1799 212.7C1798.9 208.6 1801.5 202.9 1803.8 198.9C1806.1 194.9 1809.3 191.6 1812.7 188.6C1816.2 185.6 1820.2 182.8 1824.5 181C1828.7 179.2 1833.6 178 1838.2 177.6C1842.8 177.1 1847.7 177.3 1852 178.2C1856.4 179.2 1861.1 180.8 1864.4 183.1C1867.8 185.4 1870.3 188.7 1872 192C1873.7 195.4 1874.7 199.4 1874.8 203.1C1874.9 206.7 1874.2 210.5 1872.7 214.1C1871.2 217.6 1868.8 221.6 1865.8 224.4C1862.8 227.2 1858.5 229.1 1854.8 230.7C1851.1 232.4 1849.3 234.1 1843.7 234.4C1838.2 234.7 1828.1 234.1 1821.5 232.3C1814.9 230.5 1807.9 226.9 1804.1 223.6C1800.3 220.3 1799 216.8 1799 212.7Z" fill="none" stroke="#15487c" stroke-width="5.6" stroke-linecap="round" stroke-linejoin="round" />
<path d="M1814.8 216.1C1815.8 214.5 1818.5 209.5 1821 206.5C1823.5 203.5 1826.9 200.3 1830 198.2C1833.1 196.2 1836.4 194.8 1839.6 194.1C1842.8 193.3 1846.5 193.3 1849.3 193.7C1852 194.2 1854.7 195.6 1856.2 196.9C1857.7 198.1 1857.9 200.3 1858.2 201" fill="none" stroke="#15487c" stroke-width="5.6" stroke-linecap="round" stroke-linejoin="round" />
<path d="M1739.4 203.2C1741.1 204.5 1741.1 208.4 1740.8 211.3C1740.5 214.1 1739.5 217.8 1737.6 220.2C1735.8 222.6 1732.6 225 1729.6 225.8C1726.6 226.5 1722.4 226.1 1719.7 224.7C1717 223.3 1714.1 219.9 1713.4 217.5C1712.8 215.1 1714.2 212 1715.7 210.4C1717.2 208.7 1719.9 208.9 1722.4 207.7C1724.9 206.5 1727.6 203.9 1730.5 203.2C1733.3 202.4 1737.7 201.8 1739.4 203.2Z" fill="#f9a553"  />
<path d="M1739.4 203.2C1739.7 204.5 1741.1 208.4 1740.8 211.3C1740.5 214.1 1739.5 217.8 1737.6 220.2C1735.8 222.6 1732.6 225 1729.6 225.8C1726.6 226.5 1722.4 226.1 1719.7 224.7C1717 223.3 1714.6 219.1 1713.4 217.5C1712.2 216 1712.7 215.9 1712.5 215.6" fill="none" stroke="#15487c" stroke-width="5.6" stroke-linecap="round" stroke-linejoin="round" />
<path d="M1719.9 207.7C1720.5 208.6 1722.1 211.7 1723.5 213C1724.9 214.4 1727.4 215.3 1728.2 215.7" fill="none" stroke="#15487c" stroke-width="5.6" stroke-linecap="round" stroke-linejoin="round" />
<path d="M1723.5 181.2A43.5 43.5 0 1 1 1803.8 181.2L1803.8 181.2C1803.6 182.5 1803.5 186.9 1803 188.9C1802.6 190.8 1802 191.5 1801.1 192.9C1800.1 194.3 1799 196.2 1797.2 197.4C1795.5 198.5 1792.5 198.6 1790.5 199.6C1788.5 200.7 1787.7 202 1785.1 203.6C1782.6 205.3 1779 208 1775.3 209.5C1771.5 210.9 1766.9 212.2 1762.7 212.2C1758.5 212.2 1753.9 211 1750.2 209.5C1746.4 208 1742.9 204.7 1740.3 203.2C1737.7 201.7 1736.7 201.4 1734.5 200.5C1732.3 199.6 1729 199.1 1727.3 197.8C1725.6 196.5 1725 194.4 1724.4 192.9C1723.7 191.4 1723.6 190.8 1723.5 188.9C1723.3 186.9 1723.5 182.5 1723.5 181.2Z" fill="#fdf6d2"  />
<path d="M1723.5 181.7C1722.7 179 1722 173.2 1722.4 168.2C1722.8 163.3 1723.7 157 1726 152.1C1728.2 147.2 1732 142.2 1735.8 138.7C1739.7 135.2 1744.7 132.8 1749.3 131.1C1753.9 129.3 1758.8 128.4 1763.6 128.4C1768.4 128.4 1773.3 129.3 1778 131.1C1782.6 132.8 1787.7 135.2 1791.4 138.7C1795.1 142.2 1798.2 147.2 1800.4 152.1C1802.5 157 1803.8 163.3 1804.4 168.2C1805 173.2 1804.7 178.4 1803.8 181.7C1802.8 185 1800.6 188.3 1798.6 188C1796.5 187.7 1793 183.2 1791.4 179.9C1789.8 176.6 1789 172.1 1788.7 168.2C1788.4 164.4 1788.9 160.5 1789.6 156.6C1790.4 152.7 1793.5 145.5 1793.2 144.9C1792.9 144.3 1790.2 150.6 1787.8 153C1785.4 155.4 1782.3 157.9 1778.9 159.3C1775.4 160.6 1771.4 160.5 1767.2 161.1C1763 161.7 1757.5 161.7 1753.8 162.9C1750 164.1 1745.8 166.6 1744.8 168.2C1743.8 169.9 1747 170.6 1747.5 172.7C1747.9 174.8 1748.4 178.5 1747.5 180.8C1746.6 183.1 1744.5 185.5 1742.1 186.6C1739.7 187.7 1735.7 187.9 1733.2 187.5C1730.6 187.1 1728.5 185.3 1726.9 184.4C1725.3 183.4 1724.2 184.4 1723.5 181.7Z" fill="#f9a553"  />
<path d="M1762.7 144.5C1760.6 144.3 1754.7 143.1 1750.2 143.6C1745.7 144.1 1739.7 145.5 1735.8 147.6C1732 149.8 1728.9 153.2 1726.9 156.6C1724.9 160 1724.2 164.2 1724 168.2C1723.9 172.3 1724.5 177.6 1726 180.8C1727.5 184 1730.5 186.3 1733.2 187.2C1735.8 188.2 1739.7 187.6 1742.1 186.3C1744.5 185.1 1746.9 182.2 1747.7 179.9C1748.4 177.6 1747.6 174.4 1746.6 172.7C1745.5 171.1 1743.1 169.9 1741.4 169.9C1739.7 169.9 1737.3 171.4 1736.3 172.7C1735.2 174.1 1734.8 176.8 1735.1 178.1C1735.4 179.4 1737.6 180.3 1738.1 180.8" fill="none" stroke="#15487c" stroke-width="5.6" stroke-linecap="round" stroke-linejoin="round" />
<path d="M1744.8 168.7C1746.3 167.8 1750 164.3 1753.8 163C1757.5 161.8 1763 161.7 1767.2 161.1C1771.4 160.4 1775.4 160.6 1778.9 159.3C1782.3 157.9 1785.4 155.4 1787.8 153C1790.2 150.6 1792.3 146.3 1793.2 144.9" fill="none" stroke="#15487c" stroke-width="5.6" stroke-linecap="round" stroke-linejoin="round" />
<path d="M1793.2 144.9C1792.6 146.9 1790.4 152.7 1789.6 156.6C1788.9 160.5 1788.4 164.4 1788.7 168.2C1789 172.1 1789.8 176.6 1791.4 179.9C1793 183.2 1797 186.8 1798.1 188.1" fill="none" stroke="#15487c" stroke-width="5.6" stroke-linecap="round" stroke-linejoin="round" />
<path d="M1723.5 181.2A43.5 43.5 0 1 1 1803.8 181.2L1803.8 181.2C1803.6 182.5 1803.5 186.9 1803 188.9C1802.6 190.8 1802 191.5 1801.1 192.9C1800.1 194.3 1799 196.2 1797.2 197.4C1795.5 198.5 1792.5 198.6 1790.5 199.6C1788.5 200.7 1787.7 202 1785.1 203.6C1782.6 205.3 1779 208 1775.3 209.5C1771.5 210.9 1766.9 212.2 1762.7 212.2C1758.5 212.2 1753.9 211 1750.2 209.5C1746.4 208 1742.9 204.7 1740.3 203.2C1737.7 201.7 1736.7 201.4 1734.5 200.5C1732.3 199.6 1729 199.1 1727.3 197.8C1725.6 196.5 1725 194.4 1724.4 192.9C1723.7 191.4 1723.6 190.8 1723.5 188.9C1723.3 186.9 1723.5 182.5 1723.5 181.2Z" fill="none" stroke="#15487c" stroke-width="5.6" stroke-linecap="round" stroke-linejoin="round" />
<path d="M1755.6 198.3C1756.7 198.8 1760 201.5 1762.3 201.6C1764.5 201.7 1767.9 199.2 1769 198.7" fill="none" stroke="#15487c" stroke-width="4.6" stroke-linecap="round" stroke-linejoin="round" />
<path d="M1724.8 269.7C1721.5 269.4 1717.1 267.1 1713 267C1708.8 266.9 1703.2 266.9 1699.8 269C1696.4 271.1 1693.4 275.6 1692.5 279.6C1691.6 283.5 1693.3 288.6 1694.5 292.7C1695.7 296.9 1698.6 300.2 1699.8 304.6C1701 309 1700.7 314.5 1701.8 319.1C1702.9 323.7 1704.3 329.2 1706.4 332.3C1708.5 335.4 1712.3 337.6 1714.3 337.6C1716.3 337.6 1717.4 335.4 1718.2 332.3C1719.1 329.2 1718.7 322.4 1719.6 319.1C1720.4 315.8 1722.1 312.5 1723.5 312.5C1724.9 312.5 1727.1 315.8 1728.1 319.1C1729.1 322.4 1728.5 329.2 1729.4 332.3C1730.4 335.4 1732 337.8 1734.1 337.6C1736.1 337.3 1739.8 334.5 1742 331C1744.2 327.5 1746.1 321.1 1747.2 316.5C1748.3 311.9 1747.5 307.5 1748.6 303.3C1749.7 299.1 1752.4 295.4 1753.8 291.4C1755.3 287.5 1757.1 283.1 1757.1 279.6C1757.1 276 1756.1 272.4 1753.8 270.3C1751.5 268.2 1746.8 267.4 1743.3 267C1739.8 266.7 1735.8 267.9 1732.7 268.3C1729.7 268.8 1728.1 269.9 1724.8 269.7Z" fill="#fff" stroke="#15487c" stroke-width="5.6" stroke-linecap="round" stroke-linejoin="round" />
<path d="M1724.8 269.7C1725.5 270.8 1727 274.6 1728.8 276.3C1730.5 277.9 1733.6 279.2 1735.4 279.6C1737.1 279.9 1738.7 278.5 1739.3 278.2" fill="none" stroke="#15487c" stroke-width="5.6" stroke-linecap="round" stroke-linejoin="round" />
<path d="M1800.5 222.8C1800.1 225.9 1799.7 235.3 1798.1 241C1796.5 246.8 1793.7 251.8 1790.7 257.1C1787.8 262.5 1784.4 268.3 1780.2 273C1776 277.6 1770.5 281.6 1765.7 284.8C1760.9 288 1755.6 290.4 1751.2 292.1C1746.8 293.7 1743.1 294.3 1739.3 294.7C1735.5 295.2 1730.3 294.7 1728.5 294.7" fill="none" stroke="#15487c" stroke-width="5.6" stroke-linecap="round" stroke-linejoin="round" />
<ellipse cx="1926.5" cy="288.8" rx="9.2" ry="5.8" transform="rotate(38 1926.5 288.8)" fill="#f9a553" stroke="#15487c" stroke-width="5.6"/>
<ellipse cx="1915.3" cy="331.6" rx="9.2" ry="5.8" transform="rotate(38 1915.3 331.6)" fill="#f9a553" stroke="#15487c" stroke-width="5.6"/>
<path d="M475.3 931C473.3 930.2 466.8 929.2 463.7 925.9C460.6 922.7 458.2 917.5 456.5 911.5C454.7 905.4 453.2 897.7 453.3 889.8C453.4 881.8 455.6 870.6 457.2 863.7C458.8 856.8 462 851 463 848.5" fill="none" stroke="#15487c" stroke-width="3.9" stroke-linecap="round" stroke-linejoin="round" />
<path d="M560.7 933.2C562.9 931.7 570.3 928.6 573.7 924.5C577.1 920.4 579.6 914.8 581.2 908.6C582.9 902.3 583.8 894.3 583.6 886.9C583.3 879.4 581.3 870.1 579.9 863.7C578.6 857.3 576.2 851 575.4 848.5" fill="none" stroke="#15487c" stroke-width="3.9" stroke-linecap="round" stroke-linejoin="round" />
<path d="M457.2 846C462.1 847.5 476.6 853 486.9 855C497.1 857 507.8 858 518.7 857.9C529.6 857.8 541.9 856.3 552 854.3C562.1 852.3 574.9 847.4 579.5 846" fill="none" stroke="#15487c" stroke-width="3.9" stroke-linecap="round" stroke-linejoin="round" />
<rect x="424.2" y="818" width="13.8" height="37.9" rx="3.2" transform="rotate(25 431.1 836.9)" fill="#fff" stroke="#15487c" stroke-width="4.2"/>
<rect x="432.9" y="821" width="4.1" height="30.4" transform="rotate(25 431.1 836.9)" fill="#f15b54"/>
<rect x="437.1" y="818" width="18.5" height="51" rx="4.3" transform="rotate(25 446.3 843.4)" fill="#fff" stroke="#15487c" stroke-width="4.2"/>
<rect x="446.6" y="820.3" width="6.9" height="46.3" rx="2" transform="rotate(25 446.3 843.4)" fill="#f9a553"/>
<rect x="437.1" y="818" width="18.5" height="51" rx="4.3" transform="rotate(25 446.3 843.4)" fill="none" stroke="#15487c" stroke-width="4.2"/>
<rect x="599.7" y="818" width="13.8" height="37.9" rx="3.2" transform="rotate(-25 606.6 836.9)" fill="#fff" stroke="#15487c" stroke-width="4.2"/>
<rect x="600.8" y="821" width="4.1" height="30.4" transform="rotate(-25 606.6 836.9)" fill="#f15b54"/>
<rect x="582.1" y="818" width="18.5" height="51" rx="4.3" transform="rotate(-25 591.4 843.4)" fill="#fff" stroke="#15487c" stroke-width="4.2"/>
<rect x="584.1" y="820.3" width="6.9" height="46.3" rx="2" transform="rotate(-25 591.4 843.4)" fill="#f9a553"/>
<rect x="582.1" y="818" width="18.5" height="51" rx="4.3" transform="rotate(-25 591.4 843.4)" fill="none" stroke="#15487c" stroke-width="4.2"/>
<path d="M486.9 876C481.5 876.6 476 879.3 472.4 882.5C468.8 885.8 466.3 890.7 465.1 895.5C463.9 900.4 463.9 906.2 465.1 911.5C466.3 916.8 470.2 921.8 472.4 927.4C474.6 932.9 476.5 938.2 478.2 944.8C479.9 951.3 480.3 959.5 482.5 966.5C484.7 973.5 488.1 982.2 491.2 986.7C494.3 991.3 498.7 993.7 501.3 994C504 994.2 505.9 991.6 507.1 988.2C508.3 984.8 507.8 979 508.6 973.7C509.3 968.4 510 960.1 511.5 956.3C513 952.6 515.4 951.3 517.5 951.3C519.7 951.3 522.8 953.8 524.2 956.3C525.6 958.9 525.4 961.2 525.9 966.5C526.5 971.8 526.2 983.6 527.4 988.2C528.6 992.8 530.8 994 533.2 994C535.6 994 538.7 991.6 541.9 988.2C545 984.8 549.6 979.7 552 973.7C554.4 967.7 554.9 958.8 556.3 952C557.8 945.2 558.5 939.2 560.7 933.2C562.9 927.1 567.6 921.6 569.4 915.8C571.1 910 572.8 904.2 571.1 898.4C569.4 892.6 563.6 884.8 559.2 881.1C554.8 877.3 549.6 876.4 544.8 876C539.9 875.6 534.4 877.6 530.3 878.9C526.2 880.2 524.5 884 520.2 884C515.8 884 509.8 880.2 504.2 878.9C498.7 877.6 492.2 875.4 486.9 876Z" fill="#fff"  />
<path d="M488.3 876.7C484.9 877 476.8 880.1 473.1 883.2C469.4 886.4 467.1 890.8 465.9 895.5C464.7 900.2 464.7 906.2 465.9 911.5C467 916.8 470.7 921.8 472.8 927.4C474.9 932.9 476.9 938.2 478.6 944.8C480.3 951.3 480.8 959.6 482.9 966.5C485.1 973.3 488.4 981.6 491.5 986C494.6 990.4 499.2 992 501.3 992.8C503.5 993.7 504.4 992.8 504.2 991.1C504 989.3 501.8 986.5 500.2 982.4C498.5 978.3 495.9 972.7 494.4 966.5C492.8 960.2 492.3 951.3 490.9 944.8C489.5 938.2 488.1 932.7 486.1 927.4C484.2 922.1 480.8 917.7 479.3 912.9C477.8 908.1 476.6 902.7 477 898.4C477.4 894.2 479.1 890.4 481.8 887.6C484.5 884.7 492.3 883.2 493.4 881.4C494.5 879.5 491.7 876.4 488.3 876.7Z" fill="#6cc6ef"  />
<path d="M525.9 881.8C527.1 880.5 532.7 879.3 536.1 878.9C539.5 878.5 544.8 878.5 546.2 879.6C547.7 880.7 546.4 884 544.8 885.4C543.1 886.9 538.7 888.1 536.1 888.3C533.4 888.5 530.5 887.9 528.8 886.9C527.1 885.8 524.7 883.1 525.9 881.8Z" fill="#6cc6ef"  />
<path d="M526.2 959.2C526 963.8 526.8 982.6 528.1 988.2C529.4 993.7 532.6 993 533.9 992.5C535.2 992 536.2 988.9 536.1 985.3C536 981.7 534.3 974.9 533.2 970.8C532.1 966.7 530.7 962.6 529.6 960.7C528.4 958.8 526.5 954.7 526.2 959.2Z" fill="#6cc6ef"  />
<path d="M486.9 876C481.5 876.6 476 879.3 472.4 882.5C468.8 885.8 466.3 890.7 465.1 895.5C463.9 900.4 463.9 906.2 465.1 911.5C466.3 916.8 470.2 921.8 472.4 927.4C474.6 932.9 476.5 938.2 478.2 944.8C479.9 951.3 480.3 959.5 482.5 966.5C484.7 973.5 488.1 982.2 491.2 986.7C494.3 991.3 498.7 993.7 501.3 994C504 994.2 505.9 991.6 507.1 988.2C508.3 984.8 507.8 979 508.6 973.7C509.3 968.4 510 960.1 511.5 956.3C513 952.6 515.4 951.3 517.5 951.3C519.7 951.3 522.8 953.8 524.2 956.3C525.6 958.9 525.4 961.2 525.9 966.5C526.5 971.8 526.2 983.6 527.4 988.2C528.6 992.8 530.8 994 533.2 994C535.6 994 538.7 991.6 541.9 988.2C545 984.8 549.6 979.7 552 973.7C554.4 967.7 554.9 958.8 556.3 952C557.8 945.2 558.5 939.2 560.7 933.2C562.9 927.1 567.6 921.6 569.4 915.8C571.1 910 572.8 904.2 571.1 898.4C569.4 892.6 563.6 884.8 559.2 881.1C554.8 877.3 549.6 876.4 544.8 876C539.9 875.6 534.4 877.6 530.3 878.9C526.2 880.2 524.5 884 520.2 884C515.8 884 509.8 880.2 504.2 878.9C498.7 877.6 492.2 875.4 486.9 876Z" fill="none" stroke="#15487c" stroke-width="4.2" stroke-linecap="round" stroke-linejoin="round" />
<path d="M504.2 878.9C506.9 879.9 515.8 882.8 520.2 884.7C524.5 886.6 528.6 889.5 530.3 890.5" fill="none" stroke="#15487c" stroke-width="4.2" stroke-linecap="round" stroke-linejoin="round" />
<path d="M490 886.9C488.7 887.3 484.1 887.3 481.8 889.5C479.5 891.6 477 896.4 476.4 899.9C475.8 903.4 477.9 908.6 478.2 910.3" fill="none" stroke="#15487c" stroke-width="4.2" stroke-linecap="round" stroke-linejoin="round" />
<circle cx="499.6" cy="905" r="3.6" fill="#15487c"/>
<circle cx="536.8" cy="905" r="3.6" fill="#15487c"/>
<path d="M501.6 923L534.9 923A16.6 16.2 0 0 1 501.6 923Z" fill="#f15b54" stroke="#15487c" stroke-width="4.2" stroke-linecap="round" stroke-linejoin="round" />
<path d="M292.7 88.6L303.9 99.8M303.9 88.6L292.7 99.8" stroke="#15487c" stroke-width="5.3" stroke-linecap="round" fill="none" transform="rotate(0 298.3 94.2)"/>
<path d="M347.2 130L358.4 141.2M358.4 130L347.2 141.2" stroke="#15487c" stroke-width="5.3" stroke-linecap="round" fill="none" transform="rotate(0 352.8 135.6)"/>
<path d="M347.2 301.4L358.4 312.6M358.4 301.4L347.2 312.6" stroke="#15487c" stroke-width="5.3" stroke-linecap="round" fill="none" transform="rotate(0 352.8 307)"/>
<polygon points="338.8 96.7 339.7 104.8 347.1 108.1 339.7 111.4 338.8 119.5 333.4 113.4 325.4 115.1 329.5 108.1 325.4 101 333.4 102.7" fill="#15487c" stroke="#15487c" stroke-width="4.6" stroke-linejoin="round"/>
<polygon points="336.8 102.9 337.6 106.3 340.5 108.1 337.6 109.8 336.8 113.2 334.2 110.9 330.8 111.2 332.1 108.1 330.8 104.9 334.2 105.2" fill="#6cc6ef"/>
<polygon points="331.8 318.7 332.6 326.8 340.1 330.1 332.6 333.4 331.8 341.5 326.3 335.4 318.4 337.2 322.5 330.1 318.4 323.1 326.3 324.8" fill="#15487c" stroke="#15487c" stroke-width="4.6" stroke-linejoin="round"/>
<polygon points="329.7 325 330.5 328.4 333.5 330.1 330.5 331.9 329.7 335.3 327.1 333 323.7 333.3 325.1 330.1 323.7 326.9 327.1 327.3" fill="#6cc6ef"/>
<path d="M1721.5 88.6L1732.7 99.8M1732.7 88.6L1721.5 99.8" stroke="#15487c" stroke-width="5.3" stroke-linecap="round" fill="none" transform="rotate(0 1727.1 94.2)"/>
<path d="M1836.2 109.1L1847.4 120.3M1847.4 109.1L1836.2 120.3" stroke="#15487c" stroke-width="5.3" stroke-linecap="round" fill="none" transform="rotate(0 1841.8 114.7)"/>
<path d="M1679.2 142.2L1690.4 153.4M1690.4 142.2L1679.2 153.4" stroke="#15487c" stroke-width="5.3" stroke-linecap="round" fill="none" transform="rotate(0 1684.8 147.8)"/>
<polygon points="1698.9 100.5 1702.2 108 1710.3 108.8 1704.2 114.2 1705.9 122.2 1698.9 118.1 1691.8 122.2 1693.5 114.2 1687.5 108.8 1695.6 108" fill="#15487c" stroke="#15487c" stroke-width="4.6" stroke-linejoin="round"/>
<polygon points="1698.9 107.1 1700.6 110.1 1704 110.8 1701.7 113.4 1702 116.8 1698.9 115.5 1695.7 116.8 1696 113.4 1693.7 110.8 1697.1 110.1" fill="#6cc6ef"/>
<polygon points="1864.9 127.4 1868.2 134.9 1876.3 135.7 1870.2 141.1 1872 149.1 1864.9 145 1857.9 149.1 1859.6 141.1 1853.5 135.7 1861.6 134.9" fill="#15487c" stroke="#15487c" stroke-width="4.6" stroke-linejoin="round"/>
<polygon points="1864.9 134 1866.7 137 1870.1 137.7 1867.8 140.3 1868.1 143.8 1864.9 142.4 1861.7 143.8 1862.1 140.3 1859.8 137.7 1863.2 137" fill="#6cc6ef"/>
<g font-family="'Liberation Sans', sans-serif"><text x="460.5" y="188" font-size="73.4" font-weight="bold" fill="#15487c" stroke="#15487c" stroke-width="1.8" stroke-linejoin="round" textLength="314.1" lengthAdjust="spacingAndGlyphs">SCHEDULE</text>
<text x="795.2" y="188" font-size="73.4" font-weight="bold" fill="#15487c" stroke="#15487c" stroke-width="1.8" stroke-linejoin="round" textLength="73.6" lengthAdjust="spacingAndGlyphs">OF</text>
<text x="890.5" y="188" font-size="73.4" font-weight="bold" fill="#15487c" stroke="#15487c" stroke-width="1.8" stroke-linejoin="round" textLength="155.2" lengthAdjust="spacingAndGlyphs">BABY</text>
<text x="1068.7" y="188" font-size="73.4" font-weight="bold" fill="#15487c" stroke="#15487c" stroke-width="1.8" stroke-linejoin="round" textLength="191" lengthAdjust="spacingAndGlyphs">TEETH</text>
<text x="1279" y="188" font-size="73.4" font-weight="bold" fill="#15487c" stroke="#15487c" stroke-width="1.8" stroke-linejoin="round" textLength="301.6" lengthAdjust="spacingAndGlyphs">ERUPTION</text>
<text x="478" y="282.2" font-size="45.7" font-weight="normal" fill="#58595b" stroke="#58595b" stroke-width="0.9" stroke-linejoin="round" textLength="156.4" lengthAdjust="spacingAndGlyphs">(primary</text>
<text x="651.5" y="282.2" font-size="45.7" font-weight="normal" fill="#58595b" stroke="#58595b" stroke-width="0.9" stroke-linejoin="round" textLength="107.7" lengthAdjust="spacingAndGlyphs">teeth,</text>
<text x="769" y="282.2" font-size="45.7" font-weight="normal" fill="#58595b" stroke="#58595b" stroke-width="0.9" stroke-linejoin="round" textLength="86.6" lengthAdjust="spacingAndGlyphs">baby</text>
<text x="871.2" y="282.2" font-size="45.7" font-weight="normal" fill="#58595b" stroke="#58595b" stroke-width="0.9" stroke-linejoin="round" textLength="107.6" lengthAdjust="spacingAndGlyphs">teeth,</text>
<text x="987.2" y="282.2" font-size="45.7" font-weight="normal" fill="#58595b" stroke="#58595b" stroke-width="0.9" stroke-linejoin="round" textLength="188.5" lengthAdjust="spacingAndGlyphs">deciduous</text>
<text x="1188.5" y="282.2" font-size="45.7" font-weight="normal" fill="#58595b" stroke="#58595b" stroke-width="0.9" stroke-linejoin="round" textLength="107.7" lengthAdjust="spacingAndGlyphs">teeth,</text>
<text x="1307.2" y="282.2" font-size="45.7" font-weight="normal" fill="#58595b" stroke="#58595b" stroke-width="0.9" stroke-linejoin="round" textLength="35.5" lengthAdjust="spacingAndGlyphs">or</text>
<text x="1355.7" y="282.2" font-size="45.7" font-weight="normal" fill="#58595b" stroke="#58595b" stroke-width="0.9" stroke-linejoin="round" textLength="77.1" lengthAdjust="spacingAndGlyphs">milk</text>
<text x="1449.2" y="282.2" font-size="45.7" font-weight="normal" fill="#58595b" stroke="#58595b" stroke-width="0.9" stroke-linejoin="round" textLength="111.3" lengthAdjust="spacingAndGlyphs">teeth)</text>
<text x="1063.8" y="511" font-size="34.3" font-weight="bold" fill="#58595b" stroke="#58595b" stroke-width="1.2" stroke-linejoin="round" textLength="175" lengthAdjust="spacingAndGlyphs">Upper Teeth</text>
<text x="1412.7" y="511" font-size="34.3" font-weight="bold" fill="#58595b" stroke="#58595b" stroke-width="1.2" stroke-linejoin="round" textLength="80.9" lengthAdjust="spacingAndGlyphs">Erupt</text>
<text x="1654.1" y="511" font-size="34.3" font-weight="bold" fill="#58595b" stroke="#58595b" stroke-width="1.2" stroke-linejoin="round" textLength="72.7" lengthAdjust="spacingAndGlyphs">Shed</text>
<text x="1063.3" y="963.9" font-size="34.3" font-weight="bold" fill="#58595b" stroke="#58595b" stroke-width="1.2" stroke-linejoin="round" textLength="172.6" lengthAdjust="spacingAndGlyphs">Lower teeth</text>
<text x="1119.3" y="613.6" font-size="33.9" font-weight="normal" fill="#58595b" stroke="#58595b" stroke-width="0.8" stroke-linejoin="round" textLength="195.1" lengthAdjust="spacingAndGlyphs">Central incisor</text>
<text x="1413.9" y="611.2" font-size="33.9" font-weight="normal" fill="#58595b" stroke="#58595b" stroke-width="0.8" stroke-linejoin="round" textLength="131.5" lengthAdjust="spacingAndGlyphs">8-12 mos.</text>
<text x="1652.9" y="611.2" font-size="33.9" font-weight="normal" fill="#58595b" stroke="#58595b" stroke-width="0.8" stroke-linejoin="round" textLength="104.3" lengthAdjust="spacingAndGlyphs">6-7 yrs.</text>
<text x="1118.3" y="676.9" font-size="33.9" font-weight="normal" fill="#58595b" stroke="#58595b" stroke-width="0.8" stroke-linejoin="round" textLength="191.3" lengthAdjust="spacingAndGlyphs">Lateral incisor</text>
<text x="1413.4" y="674.5" font-size="33.9" font-weight="normal" fill="#58595b" stroke="#58595b" stroke-width="0.8" stroke-linejoin="round" textLength="132.8" lengthAdjust="spacingAndGlyphs">9-13 mos.</text>
<text x="1652.9" y="674.5" font-size="33.9" font-weight="normal" fill="#58595b" stroke="#58595b" stroke-width="0.8" stroke-linejoin="round" textLength="105.1" lengthAdjust="spacingAndGlyphs">7-8 yrs.</text>
<text x="1119.3" y="740.2" font-size="33.9" font-weight="normal" fill="#58595b" stroke="#58595b" stroke-width="0.8" stroke-linejoin="round" textLength="210.9" lengthAdjust="spacingAndGlyphs">Canine (cuspid)</text>
<text x="1412.9" y="737.8" font-size="33.9" font-weight="normal" fill="#58595b" stroke="#58595b" stroke-width="0.8" stroke-linejoin="round" textLength="151.7" lengthAdjust="spacingAndGlyphs">16-22 mos.</text>
<text x="1652.6" y="737.8" font-size="33.9" font-weight="normal" fill="#58595b" stroke="#58595b" stroke-width="0.8" stroke-linejoin="round" textLength="125.8" lengthAdjust="spacingAndGlyphs">10-12 yrs.</text>
<text x="1118.2" y="803.5" font-size="33.9" font-weight="normal" fill="#58595b" stroke="#58595b" stroke-width="0.8" stroke-linejoin="round" textLength="148.8" lengthAdjust="spacingAndGlyphs">First molar</text>
<text x="1413" y="801.1" font-size="33.9" font-weight="normal" fill="#58595b" stroke="#58595b" stroke-width="0.8" stroke-linejoin="round" textLength="142.9" lengthAdjust="spacingAndGlyphs">13-19 mos.</text>
<text x="1653.1" y="801.1" font-size="33.9" font-weight="normal" fill="#58595b" stroke="#58595b" stroke-width="0.8" stroke-linejoin="round" textLength="106.6" lengthAdjust="spacingAndGlyphs">9-11 yrs.</text>
<text x="1119.8" y="866.8" font-size="33.9" font-weight="normal" fill="#58595b" stroke="#58595b" stroke-width="0.8" stroke-linejoin="round" textLength="186.8" lengthAdjust="spacingAndGlyphs">Second molar</text>
<text x="1413.3" y="864.4" font-size="33.9" font-weight="normal" fill="#58595b" stroke="#58595b" stroke-width="0.8" stroke-linejoin="round" textLength="158.4" lengthAdjust="spacingAndGlyphs">25-33 mos.</text>
<text x="1652.6" y="864.4" font-size="33.9" font-weight="normal" fill="#58595b" stroke="#58595b" stroke-width="0.8" stroke-linejoin="round" textLength="125.8" lengthAdjust="spacingAndGlyphs">10-12 yrs.</text>
<text x="1119.8" y="1058.9" font-size="33.9" font-weight="normal" fill="#58595b" stroke="#58595b" stroke-width="0.8" stroke-linejoin="round" textLength="186.8" lengthAdjust="spacingAndGlyphs">Second molar</text>
<text x="1413.4" y="1056.5" font-size="33.9" font-weight="normal" fill="#58595b" stroke="#58595b" stroke-width="0.8" stroke-linejoin="round" textLength="149.6" lengthAdjust="spacingAndGlyphs">23-31 mos.</text>
<text x="1652.6" y="1056.5" font-size="33.9" font-weight="normal" fill="#58595b" stroke="#58595b" stroke-width="0.8" stroke-linejoin="round" textLength="125.8" lengthAdjust="spacingAndGlyphs">10-12 yrs.</text>
<text x="1118.2" y="1122.2" font-size="33.9" font-weight="normal" fill="#58595b" stroke="#58595b" stroke-width="0.8" stroke-linejoin="round" textLength="148.8" lengthAdjust="spacingAndGlyphs">First molar</text>
<text x="1413" y="1119.8" font-size="33.9" font-weight="normal" fill="#58595b" stroke="#58595b" stroke-width="0.8" stroke-linejoin="round" textLength="140.8" lengthAdjust="spacingAndGlyphs">14-18 mos.</text>
<text x="1653.1" y="1119.8" font-size="33.9" font-weight="normal" fill="#58595b" stroke="#58595b" stroke-width="0.8" stroke-linejoin="round" textLength="106.6" lengthAdjust="spacingAndGlyphs">9-11 yrs.</text>
<text x="1119.3" y="1185.5" font-size="33.9" font-weight="normal" fill="#58595b" stroke="#58595b" stroke-width="0.8" stroke-linejoin="round" textLength="210.9" lengthAdjust="spacingAndGlyphs">Canine (cuspid)</text>
<text x="1412.9" y="1183.1" font-size="33.9" font-weight="normal" fill="#58595b" stroke="#58595b" stroke-width="0.8" stroke-linejoin="round" textLength="148.1" lengthAdjust="spacingAndGlyphs">17-23 mos.</text>
<text x="1653" y="1183.1" font-size="33.9" font-weight="normal" fill="#58595b" stroke="#58595b" stroke-width="0.8" stroke-linejoin="round" textLength="115.1" lengthAdjust="spacingAndGlyphs">9-12 yrs.</text>
<text x="1118.3" y="1248.8" font-size="33.9" font-weight="normal" fill="#58595b" stroke="#58595b" stroke-width="0.8" stroke-linejoin="round" textLength="191.3" lengthAdjust="spacingAndGlyphs">Lateral incisor</text>
<text x="1413" y="1246.4" font-size="33.9" font-weight="normal" fill="#58595b" stroke="#58595b" stroke-width="0.8" stroke-linejoin="round" textLength="144" lengthAdjust="spacingAndGlyphs">10-16 mos.</text>
<text x="1652.9" y="1246.4" font-size="33.9" font-weight="normal" fill="#58595b" stroke="#58595b" stroke-width="0.8" stroke-linejoin="round" textLength="105.1" lengthAdjust="spacingAndGlyphs">7-8 yrs.</text>
<text x="1119.3" y="1312.1" font-size="33.9" font-weight="normal" fill="#58595b" stroke="#58595b" stroke-width="0.8" stroke-linejoin="round" textLength="195.1" lengthAdjust="spacingAndGlyphs">Central incisor</text>
<text x="1413.4" y="1309.7" font-size="33.9" font-weight="normal" fill="#58595b" stroke="#58595b" stroke-width="0.8" stroke-linejoin="round" textLength="133.6" lengthAdjust="spacingAndGlyphs">6-10 mos.</text>
<text x="1652.9" y="1309.7" font-size="33.9" font-weight="normal" fill="#58595b" stroke="#58595b" stroke-width="0.8" stroke-linejoin="round" textLength="104.3" lengthAdjust="spacingAndGlyphs">6-7 yrs.</text>
<text x="470.7" y="728.2" font-size="33.3" font-weight="bold" fill="#58595b" stroke="#58595b" stroke-width="1.2" stroke-linejoin="round" textLength="91.1" lengthAdjust="spacingAndGlyphs">Upper</text>
<text x="479.4" y="772.6" font-size="33.3" font-weight="bold" fill="#58595b" stroke="#58595b" stroke-width="1.2" stroke-linejoin="round" textLength="79.2" lengthAdjust="spacingAndGlyphs">teeth</text>
<text x="470.7" y="1061.8" font-size="33.3" font-weight="bold" fill="#58595b" stroke="#58595b" stroke-width="1.2" stroke-linejoin="round" textLength="91.2" lengthAdjust="spacingAndGlyphs">Lower</text>
<text x="479.4" y="1105.3" font-size="33.3" font-weight="bold" fill="#58595b" stroke="#58595b" stroke-width="1.2" stroke-linejoin="round" textLength="79.2" lengthAdjust="spacingAndGlyphs">teeth</text>
<text x="165.8" y="912.4" font-size="33.3" font-weight="bold" fill="#58595b" stroke="#58595b" stroke-width="1.2" stroke-linejoin="round" textLength="72.2" lengthAdjust="spacingAndGlyphs">Right</text>
<text x="813.5" y="912.4" font-size="33.3" font-weight="bold" fill="#58595b" stroke="#58595b" stroke-width="1.2" stroke-linejoin="round" textLength="55" lengthAdjust="spacingAndGlyphs">Left</text></g>
</svg>
</body></html>
